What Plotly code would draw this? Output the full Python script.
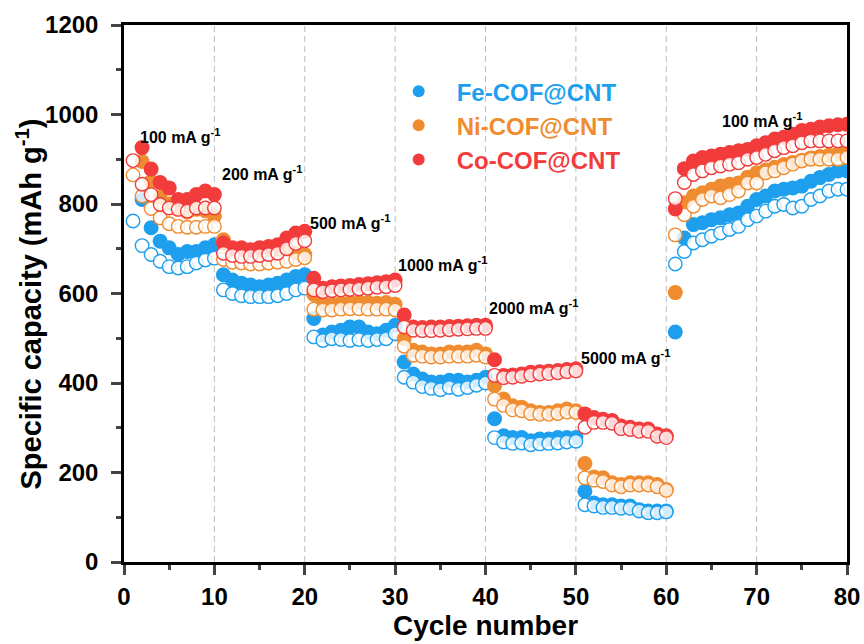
import plotly.graph_objects as go

cycles = list(range(1, 81))

fe_discharge = [None, 810, 747, 717, 702, 687, 694, 694, 702, 709,
                642, 630, 623, 619, 615, 619, 623, 630, 638, 642,
                544, 507, 514, 518, 525, 525, 514, 510, 518, 529,
                447, 420, 409, 402, 402, 406, 406, 402, 406, 413,
                320, 282, 278, 278, 271, 275, 275, 278, 278, 278,
                158, 132, 128, 128, 125, 125, 117, 114, 114, 114,
                514, 724, 754, 758, 765, 769, 776, 780, 795, 810,
                818, 829, 833, 836, 840, 851, 859, 866, 874, 874]
fe_charge = [762, 707, 687, 672, 660, 657, 660, 668, 675, 679,
             608, 600, 595, 593, 593, 593, 595, 600, 608, 612,
             503, 495, 499, 497, 495, 497, 495, 497, 499, 510,
             413, 402, 392, 388, 385, 390, 386, 390, 395, 400,
             278, 268, 265, 266, 262, 264, 265, 266, 268, 270,
             128, 125, 122, 122, 120, 120, 114, 110, 110, 112,
             666, 694, 713, 720, 728, 735, 743, 750, 765, 773,
             784, 795, 799, 791, 795, 810, 818, 829, 833, 833]

ni_discharge = [None, 895, 850, 815, 800, 790, 782, 788, 785, 773,
                720, 700, 692, 690, 690, 692, 695, 700, 690, 687,
                598, 578, 576, 578, 580, 581, 580, 578, 580, 576,
                499, 473, 469, 465, 465, 469, 469, 469, 473, 465,
                394, 364, 349, 346, 338, 334, 334, 338, 342, 338,
                220, 190, 188, 177, 173, 177, 177, 177, 173, 162,
                602, 803, 818, 825, 833, 840, 844, 847, 860, 870,
                876, 882, 888, 893, 898, 903, 906, 909, 912, 914]
ni_charge = [865, 818, 790, 769, 756, 750, 748, 748, 750, 750,
             676, 670, 668, 666, 666, 668, 670, 672, 676, 680,
             565, 563, 563, 565, 566, 566, 565, 565, 565, 563,
             482, 462, 460, 458, 458, 460, 460, 460, 462, 458,
             364, 350, 340, 338, 332, 330, 330, 332, 335, 334,
             188, 183, 180, 172, 168, 172, 172, 172, 168, 160,
             731, 776, 795, 810, 818, 814, 821, 829, 847, 847,
             870, 874, 881, 889, 896, 900, 900, 900, 900, 904]

co_discharge = [None, 926, 878, 848, 836, 810, 810, 821, 829, 821,
                713, 702, 702, 698, 702, 705, 709, 724, 735, 739,
                634, 612, 615, 617, 618, 620, 622, 624, 626, 630,
                552, 525, 524, 525, 525, 526, 527, 528, 529, 529,
                452, 417, 418, 420, 424, 425, 426, 428, 430, 432,
                331, 323, 319, 316, 304, 301, 297, 297, 286, 282,
                789, 879, 896, 904, 907, 911, 915, 919, 922, 930,
                937, 945, 949, 956, 964, 967, 972, 975, 977, 978]
co_charge = [897, 844, 821, 799, 791, 788, 784, 791, 791, 791,
             690, 685, 683, 683, 685, 687, 690, 700, 712, 718,
             608, 604, 606, 608, 609, 610, 612, 614, 615, 618,
             525, 518, 517, 517, 518, 519, 520, 521, 522, 522,
             417, 412, 413, 415, 418, 420, 421, 423, 425, 427,
             301, 312, 312, 310, 298, 296, 292, 292, 281, 278,
             812, 848, 866, 874, 881, 885, 889, 892, 900, 904,
             911, 919, 926, 930, 937, 941, 941, 941, 941, 941]

series_names = ["Fe-COF@CNT", "Ni-COF@CNT", "Co-COF@CNT"]
series_colors = ["#1E9FEE", "#F08C30", "#F23C3C"]

rate_labels = ["100 mA g<sup>-1</sup>", "200 mA g<sup>-1</sup>", "500 mA g<sup>-1</sup>",
               "1000 mA g<sup>-1</sup>", "2000 mA g<sup>-1</sup>", "5000 mA g<sup>-1</sup>",
               "100 mA g<sup>-1</sup>"]
rate_label_x = [1.5, 10.6, 20.4, 30.1, 40.2, 50.4, 65.9]
rate_label_y = [952, 870, 760, 667, 570, 458, 987]
step_boundaries = [10, 20, 30, 40, 50, 60, 70]

x_ticks = list(range(0, 81, 10))
y_ticks = list(range(0, 1201, 200))

FONT = "Arial, Liberation Sans, sans-serif"

fig = go.Figure()
discharge = [fe_discharge, ni_discharge, co_discharge]
charge = [fe_charge, ni_charge, co_charge]
for name, color, dch, ch in zip(series_names, series_colors, discharge, charge):
    fig.add_trace(go.Scatter(
        x=cycles, y=dch, mode="markers",
        name=f"<span style='color:{color}'>{name}</span>",
        marker=dict(symbol="circle", size=15, color=color, line=dict(width=0)),
        showlegend=True))
    fig.add_trace(go.Scatter(
        x=cycles, y=ch, mode="markers", showlegend=False,
        marker=dict(symbol="circle", size=13.5, color="rgba(255,255,255,0.8)",
                    line=dict(width=1.4, color=color))))

for b in step_boundaries:
    fig.add_shape(type="line", xref="x", yref="paper", x0=b, x1=b, y0=0, y1=1,
                  line=dict(color="#BDBDBD", width=1, dash="6px,4px"), layer="below")

for txt, xx, yy in zip(rate_labels, rate_label_x, rate_label_y):
    fig.add_annotation(x=xx, y=yy, xref="x", yref="y", text=txt, showarrow=False,
                       xanchor="left", yanchor="middle",
                       font=dict(family=FONT, size=16, color="black", weight="bold"))

fig.add_annotation(xref="paper", yref="paper", x=-0.131, y=0.48,
                   text="Specific capacity (mAh g<sup>-1</sup>)", textangle=-90,
                   showarrow=False, xanchor="center", yanchor="middle",
                   font=dict(family=FONT, size=29, color="black", weight="bold"))

fig.update_layout(
    width=864, height=644,
    margin=dict(l=124, r=17, t=25, b=82),
    paper_bgcolor="white", plot_bgcolor="white",
    font=dict(family=FONT, size=24, color="black", weight="bold"),
    legend=dict(x=0.355, y=0.918, xanchor="left", yanchor="top",
                bgcolor="rgba(0,0,0,0)", itemsizing="constant",
                font=dict(family=FONT, size=24, weight="bold"),
                tracegroupgap=0, itemwidth=66),
    xaxis=dict(range=[0, 80], tickvals=x_ticks, ticks="outside", ticklen=10, tickwidth=2.5,
               showline=True, linewidth=2.5, linecolor="black", mirror=True,
               showgrid=False, zeroline=False, ticklabelstandoff=1, automargin=False,
               minor=dict(ticks="outside", ticklen=5, tickwidth=2.5, dtick=5, showgrid=False),
               title=dict(text="Cycle number", standoff=5,
                          font=dict(family=FONT, size=28, weight="bold"))),
    yaxis=dict(range=[0, 1200], tickvals=y_ticks, ticks="outside", ticklen=10, tickwidth=2.5,
               showline=True, linewidth=2.5, linecolor="black", mirror=True,
               showgrid=False, zeroline=False, ticklabelstandoff=8, automargin=False,
               minor=dict(ticks="outside", ticklen=5, tickwidth=2.5, dtick=100, showgrid=False)),
)

fig.write_html("out.html")
